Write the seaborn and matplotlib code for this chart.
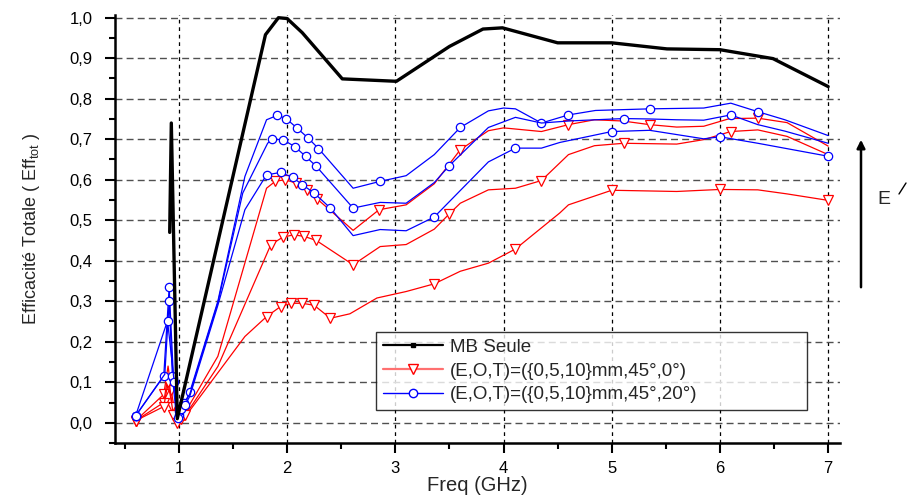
import numpy as np
import pandas as pd
import seaborn as sns
import matplotlib
matplotlib.use("Agg")
import matplotlib.pyplot as plt
from matplotlib.ticker import MultipleLocator, FuncFormatter
from matplotlib.lines import Line2D

# MB Seule
f_mb = [0.915, 0.93, 0.985, 1.8, 1.92, 2.0, 2.14, 2.51, 3.01, 3.5, 3.81, 3.99,
        4.5, 5.0, 5.51, 6.0, 6.49, 7.0]
eff_mb = [0.47, 0.74, 0.01, 0.958, 1.0, 0.998, 0.963, 0.849, 0.843, 0.929, 0.972,
          0.975, 0.938, 0.938, 0.923, 0.921, 0.899, 0.83]

# (E,O,T)=({0,5,10}mm,45°,0°) - red
f_r1 = [0.6, 0.86, 0.9, 0.93, 0.97, 1.0, 1.05, 1.1, 1.36, 1.81, 1.89, 1.98, 2.08,
        2.18, 2.28, 2.61, 2.85, 3.1, 3.36, 3.6, 3.86, 4.0, 4.35, 4.6, 4.84, 5.1,
        5.35, 5.6, 5.85, 6.09, 6.35, 6.62, 7.0]
eff_r1 = [0.005, 0.07, 0.14, 0.08, 0.01, 0.015, 0.03, 0.045, 0.164, 0.579, 0.596,
          0.60, 0.592, 0.574, 0.552, 0.475, 0.526, 0.538, 0.590, 0.674, 0.721,
          0.728, 0.719, 0.736, 0.748, 0.745, 0.736, 0.730, 0.732, 0.751, 0.752,
          0.741, 0.683]
f_r2 = [0.6, 0.86, 0.9, 0.94, 0.98, 1.0, 1.05, 1.1, 1.36, 1.85, 1.96, 2.06, 2.16,
        2.27, 2.61, 2.86, 3.1, 3.36, 3.5, 3.6, 3.86, 4.11, 4.35, 4.6, 4.84, 5.11,
        5.6, 5.85, 6.1, 6.35, 6.62, 7.0]
eff_r2 = [0.005, 0.05, 0.12, 0.04, 0.005, 0.01, 0.02, 0.035, 0.139, 0.44, 0.458,
          0.464, 0.460, 0.450, 0.390, 0.435, 0.440, 0.478, 0.516, 0.542, 0.575,
          0.579, 0.598, 0.662, 0.684, 0.690, 0.688, 0.699, 0.719, 0.723, 0.707,
          0.662]
f_r3 = [0.6, 0.86, 0.9, 0.95, 0.98, 1.02, 1.06, 1.1, 1.61, 1.81, 1.94, 2.04, 2.14,
        2.25, 2.40, 2.58, 2.83, 3.1, 3.36, 3.6, 3.86, 4.11, 4.52, 4.6, 5.0, 5.6,
        6.0, 6.35, 6.62, 7.0]
eff_r3 = [0.005, 0.04, 0.10, 0.02, 0.0, 0.01, 0.02, 0.03, 0.213, 0.262, 0.287,
          0.295, 0.295, 0.290, 0.258, 0.269, 0.308, 0.324, 0.343, 0.374, 0.394,
          0.429, 0.518, 0.538, 0.574, 0.571, 0.576, 0.575, 0.565, 0.549]

# (E,O,T)=({0,5,10}mm,45°,20°) - blue
f_b1 = [0.6, 0.86, 0.91, 0.95, 0.98, 1.0, 1.05, 1.1, 1.36, 1.61, 1.81, 1.91, 1.99,
        2.09, 2.19, 2.29, 2.61, 2.86, 3.1, 3.36, 3.6, 3.86, 4.0, 4.11, 4.35, 4.6,
        4.85, 5.1, 5.35, 5.6, 5.85, 6.1, 6.35, 6.6, 7.0]
eff_b1 = [0.017, 0.115, 0.334, 0.11, 0.03, 0.02, 0.045, 0.075, 0.30, 0.608, 0.748,
          0.759, 0.751, 0.728, 0.704, 0.677, 0.579, 0.596, 0.61, 0.662, 0.729,
          0.770, 0.777, 0.775, 0.740, 0.760, 0.771, 0.773, 0.775, 0.776, 0.777,
          0.789, 0.768, 0.748, 0.709]
f_b2 = [0.6, 0.87, 0.91, 0.94, 0.975, 1.0, 1.05, 1.1, 1.36, 1.59, 1.82, 1.86, 1.96,
        2.07, 2.17, 2.27, 2.61, 2.86, 3.1, 3.36, 3.5, 3.86, 4.11, 4.35, 4.6, 4.85,
        5.11, 5.35, 5.6, 5.85, 6.1, 6.35, 6.6, 7.0]
eff_b2 = [0.017, 0.12, 0.30, 0.116, 0.02, 0.03, 0.05, 0.07, 0.296, 0.567, 0.69,
          0.70, 0.699, 0.682, 0.658, 0.633, 0.53, 0.544, 0.542, 0.593, 0.635,
          0.729, 0.754, 0.740, 0.745, 0.748, 0.751, 0.75, 0.748, 0.747, 0.76,
          0.736, 0.72, 0.69]
f_b3 = [0.6, 0.895, 0.957, 0.99, 1.02, 1.06, 1.1, 1.36, 1.61, 1.81, 1.94, 2.05,
        2.14, 2.25, 2.40, 2.61, 2.86, 3.1, 3.36, 3.86, 4.11, 4.35, 4.52, 5.0, 5.35,
        5.85, 6.0, 6.35, 7.0]
eff_b3 = [0.017, 0.252, 0.10, 0.012, 0.035, 0.045, 0.065, 0.29, 0.526, 0.612,
          0.618, 0.606, 0.588, 0.567, 0.530, 0.462, 0.477, 0.474, 0.508, 0.644,
          0.678, 0.678, 0.692, 0.719, 0.722, 0.701, 0.706, 0.690, 0.658]

lbl_mb = "MB Seule"
lbl_red = "(E,O,T)=({0,5,10}mm,45°,0°)"
lbl_blue = "(E,O,T)=({0,5,10}mm,45°,20°)"

# which points carry a symbol (Origin skips some)
mk_r1 = [0, 1, 3, 4, 5, 6, 10, 11, 12, 13, 14, 16, 19, 23, 26, 30]
mk_r2 = [0, 1, 3, 4, 5, 6, 9, 10, 11, 12, 13, 14, 18, 22, 25, 28]
mk_r3 = [0, 1, 2, 3, 4, 5, 6, 9, 10, 11, 12, 13, 14, 18, 21, 24, 26, 29]
mk_b1 = [0, 1, 2, 3, 5, 6, 7, 11, 12, 13, 14, 15, 17, 20, 24, 25, 28, 32]
mk_b2 = [0, 2, 3, 5, 6, 11, 12, 13, 14, 15, 16, 20, 26, 30]
mk_b3 = [0, 1, 2, 3, 4, 5, 9, 10, 11, 12, 13, 14, 18, 20, 23, 26, 28]

sns.set_theme(style="white")
plt.rcParams["font.family"] = ["Liberation Sans", "DejaVu Sans"]
plt.rcParams["mathtext.fontset"] = "custom"
plt.rcParams["mathtext.rm"] = "Liberation Sans"

fig = plt.figure(figsize=(9.08, 4.99), dpi=100)
ax = fig.add_axes([0.1267, 0.1122, 0.7985, 0.858])

red_style = dict(color="red", lw=0.9, marker="v", markersize=6.5,
                 markerfacecolor="white", markeredgecolor="red", markeredgewidth=0.9)
blue_style = dict(color="blue", lw=0.9, marker="o", markersize=6,
                  markerfacecolor="white", markeredgecolor="blue", markeredgewidth=0.9)

for f, e, mk in [(f_r1, eff_r1, mk_r1), (f_r2, eff_r2, mk_r2), (f_r3, eff_r3, mk_r3)]:
    sns.lineplot(x=f, y=e, ax=ax, sort=False, estimator=None, markevery=mk, **red_style)
for f, e, mk in [(f_b1, eff_b1, mk_b1), (f_b2, eff_b2, mk_b2), (f_b3, eff_b3, mk_b3)]:
    sns.lineplot(x=f, y=e, ax=ax, sort=False, estimator=None, markevery=mk, **blue_style)
sns.lineplot(x=f_mb, y=eff_mb, ax=ax, sort=False, estimator=None, color="black", lw=2.4)

ax.set_xlim(0.41, 7.11)
ax.set_ylim(-0.05, 1.007)
ax.xaxis.set_major_locator(MultipleLocator(1))
ax.xaxis.set_minor_locator(MultipleLocator(0.5))
ax.yaxis.set_major_locator(MultipleLocator(0.1))
ax.yaxis.set_minor_locator(MultipleLocator(0.05))
ax.yaxis.set_major_formatter(FuncFormatter(lambda v, p: f"{v:.1f}".replace(".", ",")))

ax.yaxis.grid(True, which="major", ls=(0, (5, 3)), color="#505050", lw=1.0)
ax.xaxis.grid(True, which="major", ls=(0, (3, 3)), color="black", lw=0.9)
ax.set_axisbelow(True)

for s in ["top", "right"]:
    ax.spines[s].set_visible(False)
for s in ["left", "bottom"]:
    ax.spines[s].set_color("black")
    ax.spines[s].set_linewidth(1.8)
ax.tick_params(which="major", direction="out", length=7, width=1.5, color="black",
               labelsize=12, left=True, bottom=True, labelcolor="black")
ax.tick_params(which="minor", direction="out", length=4, width=1.5, color="black",
               left=True, bottom=True)
ax.tick_params(axis="x", pad=6)
ax.tick_params(axis="y", pad=9)

ax.set_xlabel("Freq (GHz)", fontsize=14.5, labelpad=0, x=0.5)
ax.set_ylabel(r"Efficacité Totale ( Eff$_{\mathrm{tot}}$ )", fontsize=13, labelpad=20)

handles = [
    Line2D([], [], color="black", lw=1.6, marker="s", markersize=2.5),
    Line2D([], [], color="#ff7070", lw=1.6, marker="v", markersize=7,
           markerfacecolor="white", markeredgecolor="red"),
    Line2D([], [], color="blue", lw=1.0, marker="o", markersize=6,
           markerfacecolor="white", markeredgecolor="blue"),
]
leg = ax.legend(handles, [lbl_mb, lbl_red, lbl_blue], loc="lower left",
                bbox_to_anchor=(0.36, 0.077, 0.594, 0.194), mode="expand",
                borderaxespad=0, fontsize=13.5, frameon=True, fancybox=False,
                handlelength=3.2, borderpad=0.35, labelspacing=0.36,
                handletextpad=0.4)
leg.get_frame().set_edgecolor("black")
leg.get_frame().set_linewidth(1.0)

# field direction indicator on the right
fig.patches.append(matplotlib.patches.FancyArrowPatch(
    (861 / 908, 1 - 290 / 499), (861 / 908, 1 - 137 / 499),
    transform=fig.transFigure, arrowstyle="-|>", mutation_scale=12,
    color="black", lw=1.8))
fig.text(877 / 908, 1 - 200 / 499, "E", fontsize=14, va="center", ha="left")
fig.add_artist(Line2D([899 / 908, 906 / 908], [1 - 194 / 499, 1 - 183 / 499],
                      transform=fig.transFigure, color="black", lw=1.0))

fig.savefig("out.png", dpi=100)
